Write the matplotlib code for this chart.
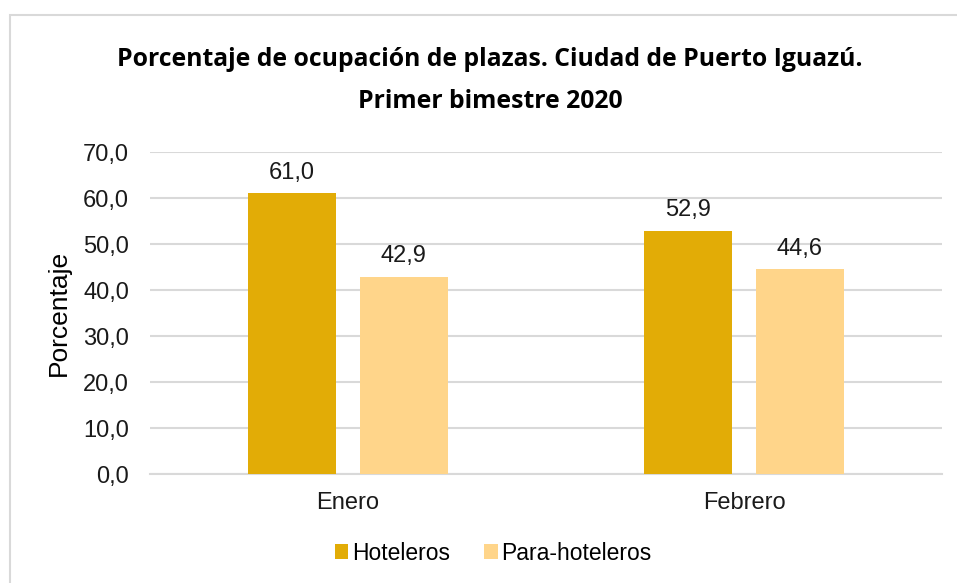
import matplotlib.pyplot as plt
import numpy as np
from matplotlib.patches import Rectangle

# Data
meses = ['Enero', 'Febrero']
hoteleros = [61.0, 52.9]
para_hoteleros = [42.9, 44.6]
series_names = ['Hoteleros', 'Para-hoteleros']
colors = ['#E2AC06', '#FFD58A']

plt.rcParams['font.family'] = ['Liberation Sans', 'DejaVu Sans']
fs = 17

fig = plt.figure(figsize=(9.57, 5.83), dpi=100)
ax = fig.add_axes([150 / 957, 109 / 583, 792 / 957, 322 / 583])

# outer chart border (light gray, only left and top visible)
fig.patches.append(Rectangle((9.5 / 957, -0.1), 1.2, 1 - 15.5 / 583 + 0.1,
                             transform=fig.transFigure, fill=False,
                             edgecolor='#D9D9D9', linewidth=1.5))

x = np.arange(len(meses))
width = 0.222
offset = 0.141

bars1 = ax.bar(x - offset, hoteleros, width, color=colors[0], label=series_names[0], zorder=3)
bars2 = ax.bar(x + offset, para_hoteleros, width, color=colors[1], label=series_names[1], zorder=3)

for bars in (bars1, bars2):
    for b in bars:
        h = b.get_height()
        ax.text(b.get_x() + b.get_width() / 2, h + 2.0, f'{h:.1f}'.replace('.', ','),
                ha='center', va='bottom', fontsize=fs, color='#1a1a1a')

ax.set_xlim(-0.5, 1.5)
ax.set_ylim(0, 70)
yt = np.arange(0, 71, 10)
ax.set_yticks(yt)
ax.set_yticklabels([f'{v:.1f}'.replace('.', ',') for v in yt], fontsize=fs, color='#1a1a1a')
ax.set_xticks(x)
ax.set_xticklabels(meses, fontsize=fs, color='#1a1a1a')
ax.tick_params(axis='y', length=0, pad=15)
ax.tick_params(axis='x', length=0, pad=13)

ax.grid(axis='y', color='#D9D9D9', linewidth=1.5, zorder=0)
for s in ['top', 'right', 'left']:
    ax.spines[s].set_visible(False)
ax.spines['bottom'].set_color('#D9D9D9')
ax.spines['bottom'].set_linewidth(1.5)

ax.set_ylabel('Porcentaje', fontsize=19)
ax.yaxis.set_label_coords(-0.1, 0.5)

fig.text(490 / 957, 1 - 60 / 583, 'Porcentaje de ocupación de plazas. Ciudad de Puerto Iguazú.',
         ha='center', va='center', fontsize=17.8, fontweight='bold', family='Open Sans')
fig.text(490 / 957, 1 - 101 / 583, 'Primer bimestre 2020',
         ha='center', va='center', fontsize=17.8, fontweight='bold', family='Open Sans')

leg = fig.legend(loc='center', bbox_to_anchor=(493 / 957, 1 - 553 / 583), ncol=2,
                 frameon=False, fontsize=16.5, handlelength=0.6, handleheight=0.6,
                 handletextpad=0.15, columnspacing=1.5)

fig.savefig('out.png', dpi=100)
